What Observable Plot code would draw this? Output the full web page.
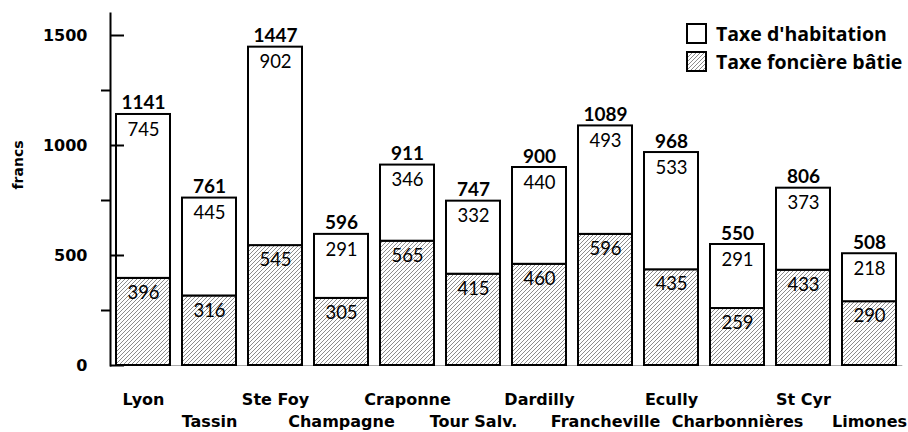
<!DOCTYPE html>
<html>
<head>
<meta charset="utf-8">
<script src="https://cdn.jsdelivr.net/npm/d3@7"></script>
<script src="https://cdn.jsdelivr.net/npm/@observablehq/plot@0.6"></script>
<style>
  html, body { margin: 0; padding: 0; background: #fff; }
  #wrap { position: relative; width: 908px; height: 432px; }
  #legend { position: absolute; left: 686px; top: 23px; font-family: "Open Sans", sans-serif; font-weight: 700; font-size: 19.5px; color: #000; }
  #legend .row { display: flex; align-items: center; height: 21px; margin-bottom: 7px; white-space: nowrap; }
  #legend svg { margin-right: 9px; flex: none; }
</style>
</head>
<body>
<div id="wrap"><div id="legend"></div></div>
<script>
const communes = ["Lyon","Tassin","Ste Foy","Champagne","Craponne","Tour Salv.","Dardilly","Francheville","Ecully","Charbonnières","St Cyr","Limones"];
const fonciere = [396,316,545,305,565,415,460,596,435,259,433,290];
const habitation = [745,445,902,291,346,332,440,493,533,291,373,218];
const totals = [1141,761,1447,596,911,747,900,1089,968,550,806,508];
const majorTicks = [0,500,1000,1500];
const minorTicks = [250,750,1250];
const seriesNames = ["Taxe d'habitation","Taxe foncière bâtie"];

const rows = communes.map((c, i) => ({commune: c, f: fonciere[i], h: habitation[i], t: totals[i]}));

const W = 908, H = 432, ML = 110, MR = 5.7, MT = 13, MB = 67;
const innerW = W - ML - MR;
const numFont = "Lato, sans-serif";
const labFont = "'DejaVu Sans', sans-serif";

const chart = Plot.plot({
  width: W, height: H,
  marginLeft: ML, marginRight: MR, marginTop: MT, marginBottom: MB,
  x: {domain: communes, paddingInner: 0.184, paddingOuter: 0.08},
  y: {domain: [0, 1600]},
  marks: [
    Plot.ruleY([0], {stroke: "#aaa", strokeWidth: 1.2}),
    Plot.barY(rows, {x: "commune", y1: 0, y2: "f", fill: "url(#hatch)", stroke: "#000", strokeWidth: 2}),
    Plot.barY(rows, {x: "commune", y1: "f", y2: "t", fill: "#fff", stroke: "#000", strokeWidth: 2}),
    Plot.text(rows, {x: "commune", y: "f", text: d => String(d.f), lineAnchor: "top", dy: 7.5, fontFamily: numFont, fontSize: 18.5, fill: "#000"}),
    Plot.text(rows, {x: "commune", y: "t", text: d => String(d.h), lineAnchor: "top", dy: 8, fontFamily: numFont, fontSize: 18.5, fill: "#000"}),
    Plot.text(rows, {x: "commune", y: "t", text: d => String(d.t), lineAnchor: "bottom", dy: -5, fontFamily: numFont, fontWeight: 700, fontSize: 19, fill: "#000"}),
    Plot.frame({anchor: "left", stroke: "#000", strokeWidth: 2}),
    Plot.ruleY(majorTicks, {stroke: "#000", strokeWidth: 2, insetRight: innerW - 14}),
    Plot.ruleY(minorTicks, {stroke: "#000", strokeWidth: 2, dx: -9, insetRight: innerW - 9}),
    Plot.axisY(majorTicks, {tickSize: 0, tickPadding: 23, label: null, tickFormat: d => String(d), fontFamily: labFont, fontWeight: 700, fontSize: 16}),
    Plot.text(["francs"], {frameAnchor: "left", rotate: -90, dx: -92, text: d => d, fontFamily: labFont, fontWeight: 700, fontSize: 14, fill: "#000"}),
    Plot.axisX(communes.filter((_, i) => i % 2 === 0), {tickSize: 0, tickPadding: 28, label: null, fontFamily: labFont, fontWeight: 700, fontSize: 16}),
    Plot.axisX(communes.filter((_, i) => i % 2 === 1), {tickSize: 0, tickPadding: 50, label: null, fontFamily: labFont, fontWeight: 700, fontSize: 16})
  ]
});

const ns = "http://www.w3.org/2000/svg";
const hatchDef = (id) => `<pattern id="${id}" patternUnits="userSpaceOnUse" width="4" height="4">` +
  '<rect width="4" height="4" fill="#fff"/>' +
  '<path d="M-1,1 l2,-2 M0,4 l4,-4 M3,5 l2,-2" stroke="#666" stroke-width="0.75"/></pattern>';
const defs = document.createElementNS(ns, "defs");
defs.innerHTML = hatchDef("hatch");
chart.insertBefore(defs, chart.firstChild);
document.getElementById("wrap").insertBefore(chart, document.getElementById("legend"));

// legend
const legend = document.getElementById("legend");
seriesNames.forEach((name, i) => {
  const row = document.createElement("div");
  row.className = "row";
  const fill = i === 0 ? "#fff" : "url(#hatchL)";
  row.innerHTML = `<svg width="21" height="21">` +
    (i === 1 ? '<defs>' + hatchDef("hatchL") + '</defs>' : '') +
    `<rect x="1" y="1" width="19" height="19" fill="${fill}" stroke="#000" stroke-width="2"/></svg><span>${name}</span>`;
  legend.appendChild(row);
});
</script>
</body>
</html>
